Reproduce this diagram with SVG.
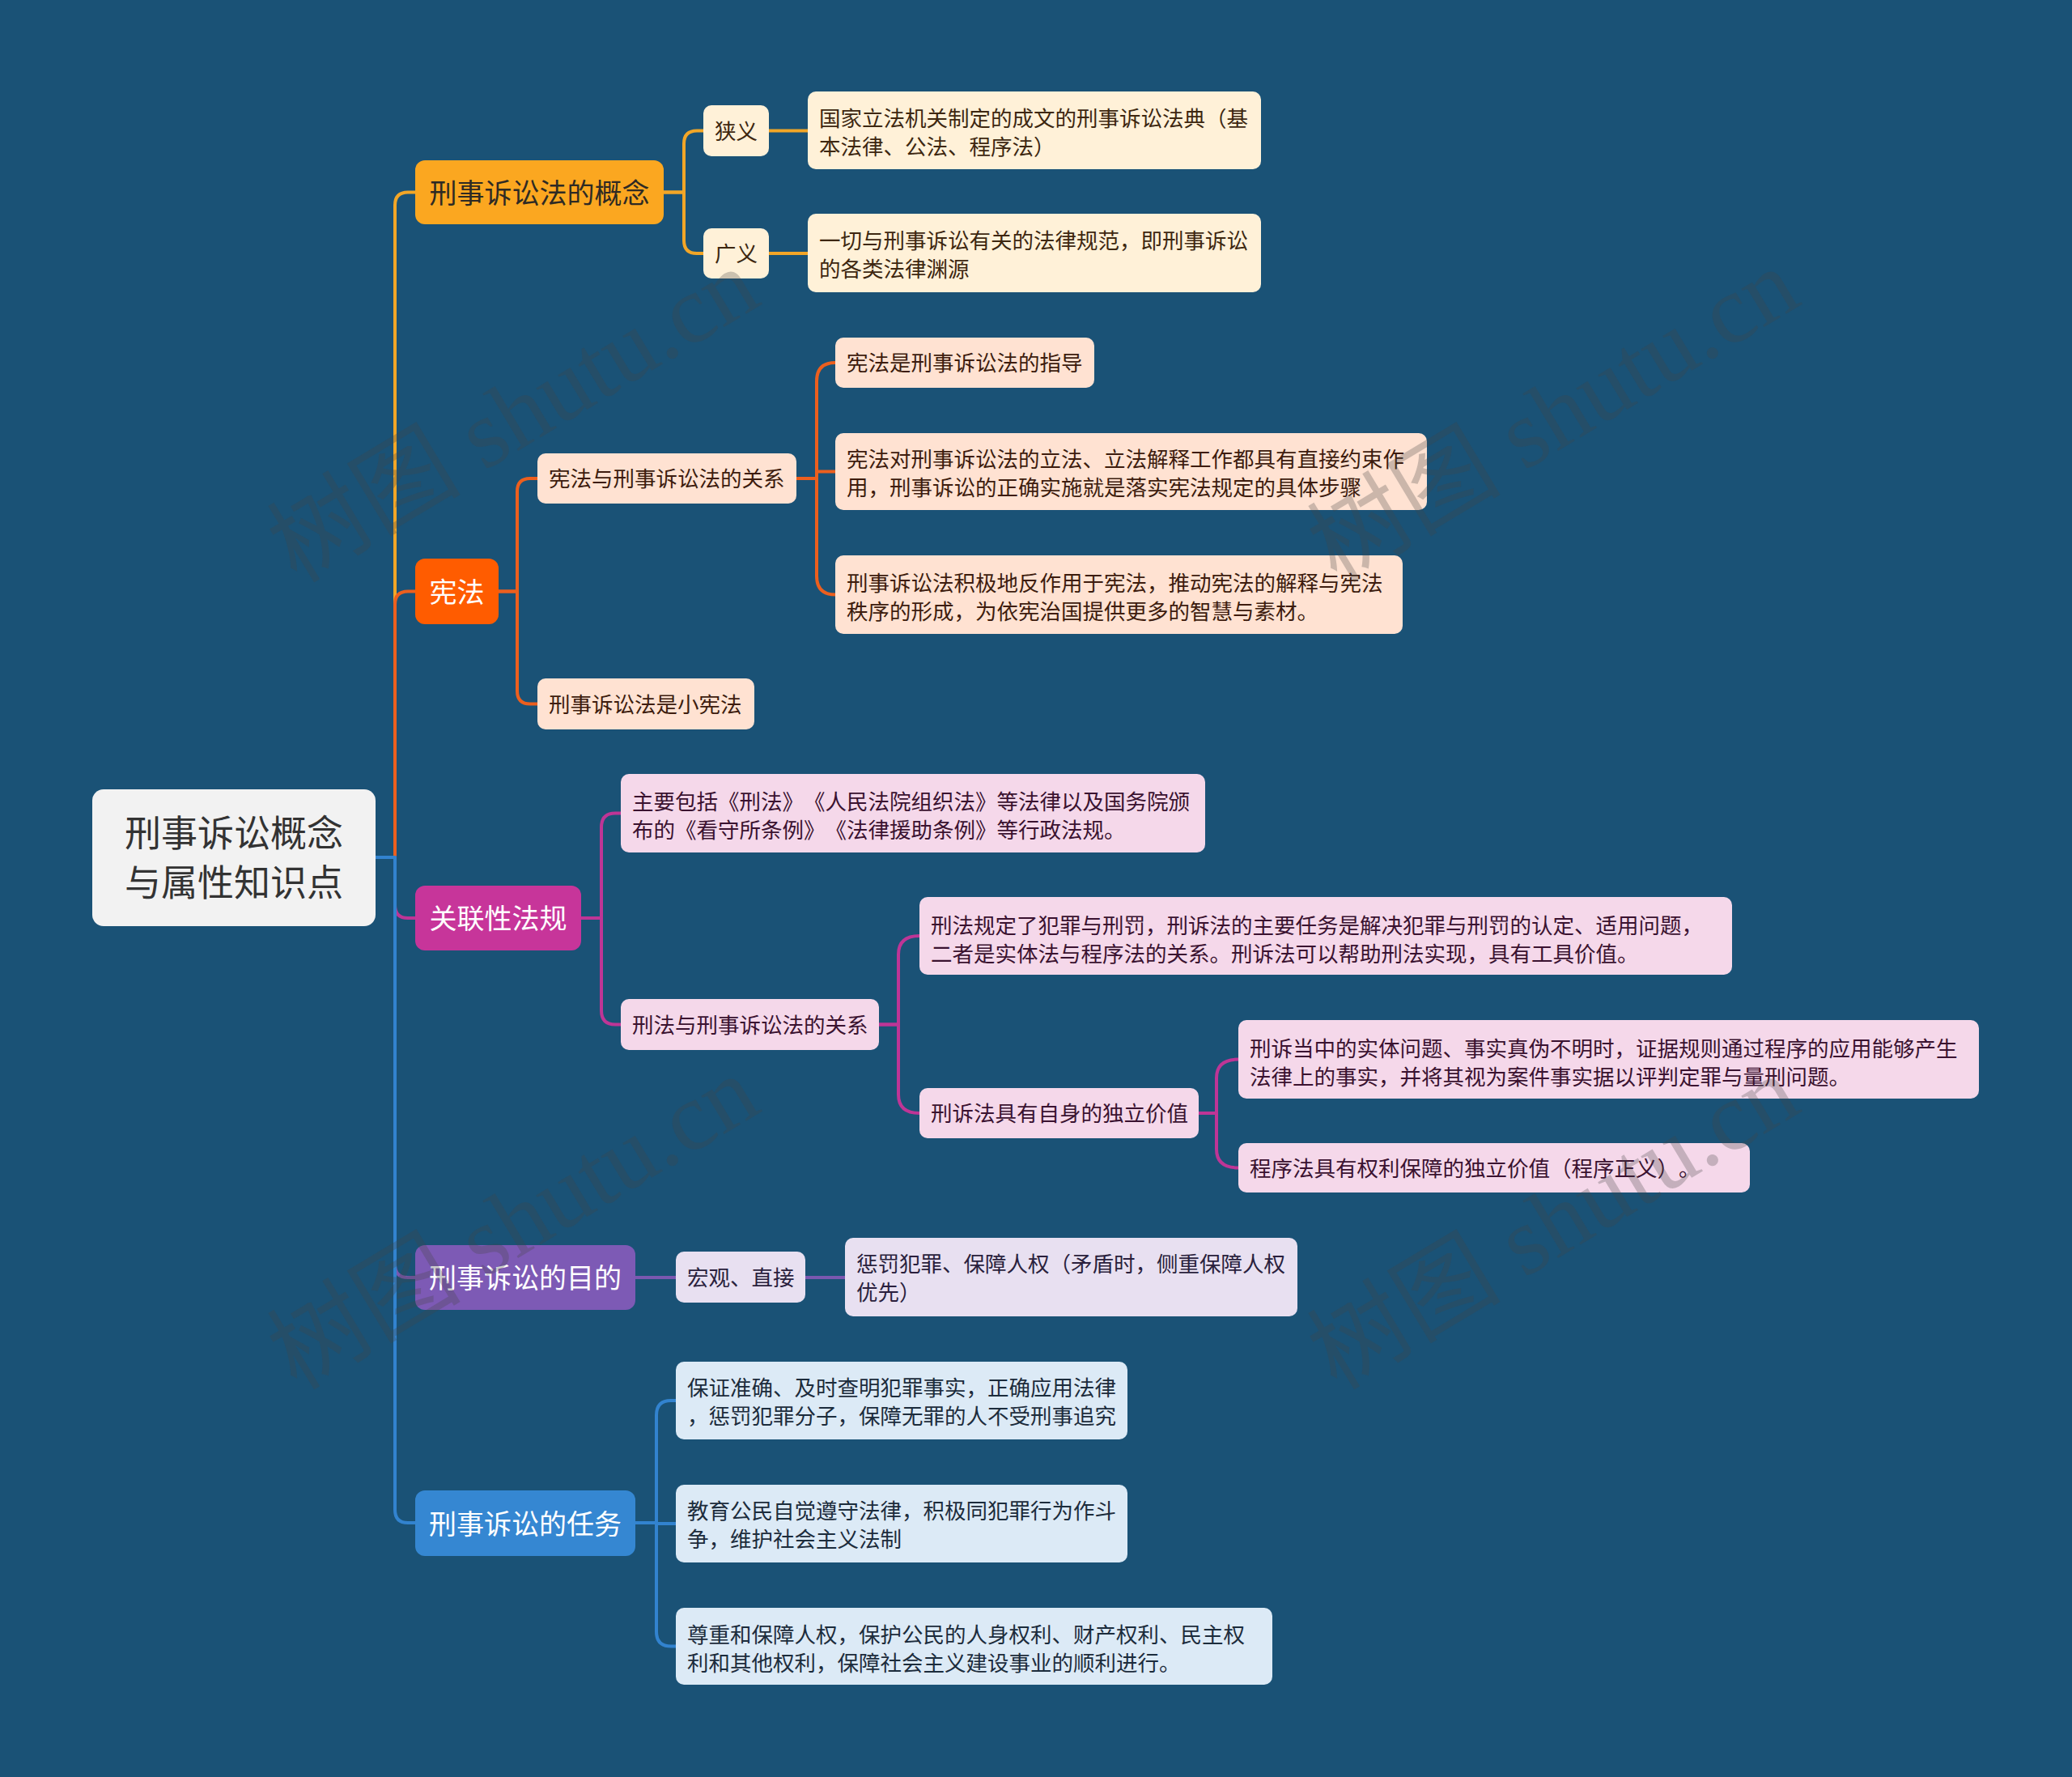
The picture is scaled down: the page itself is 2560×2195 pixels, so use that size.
<svg xmlns="http://www.w3.org/2000/svg" width="2560" height="2195" viewBox="0 0 2560 2195">
<style>
text{font-family:"Noto Sans CJK SC","Noto Sans",sans-serif;text-spacing-trim:space-all;font-feature-settings:"chws" 0,"halt" 0}
.c{fill:none;stroke-width:4;stroke-linecap:round;stroke-linejoin:round}
.t1{font-size:34px}
.t2{font-size:26.5px}
.root{font-size:45px;fill:#333333}
.wm{font-family:"Liberation Serif","Noto Sans CJK SC",serif;font-size:120px;fill:#444444;fill-opacity:0.28}
.mid{text-anchor:middle}
</style>
<rect x="0" y="0" width="2560" height="2195" fill="#1A5276"/>

<g id="connectors">
  <path class="c" stroke="#F2A627" d="M464,1059 H488 V253.5 Q488,237.5 504,237.5 H513"/>
  <path class="c" stroke="#EC5F1E" d="M464,1059 H488 V746.5 Q488,730.5 504,730.5 H513"/>
  <path class="c" stroke="#BE3596" d="M464,1059 H488 V1118 Q488,1134 504,1134 H513"/>
  <path class="c" stroke="#7A58B0" d="M464,1059 H488 V1562 Q488,1578 504,1578 H513"/>
  <path class="c" stroke="#3283CF" d="M464,1059 H488 V1865 Q488,1881 504,1881 H513"/>
  <path class="c" stroke="#F2A627" d="M820,237.5 H845 V177.5 Q845,161.5 861,161.5 H869"/>
  <path class="c" stroke="#F2A627" d="M820,237.5 H845 V297 Q845,313 861,313 H869"/>
  <path class="c" stroke="#F2A627" d="M950,161.5 H998"/>
  <path class="c" stroke="#F2A627" d="M950,313 H998"/>
  <path class="c" stroke="#EC5F1E" d="M616,730.5 H639 V607 Q639,591 655,591 H664"/>
  <path class="c" stroke="#EC5F1E" d="M616,730.5 H639 V853.5 Q639,869.5 655,869.5 H664"/>
  <path class="c" stroke="#EC5F1E" d="M984,591 H1009 V471 Q1009,448 1032,448"/>
  <path class="c" stroke="#EC5F1E" d="M984,591 H1009 V582.5 H1032"/>
  <path class="c" stroke="#EC5F1E" d="M984,591 H1009 V711.5 Q1009,734.5 1032,734.5"/>
  <path class="c" stroke="#BE3596" d="M718,1134 H743 V1022 Q743,1004.5 760,1004.5 H767"/>
  <path class="c" stroke="#BE3596" d="M718,1134 H743 V1248 Q743,1265.5 760,1265.5 H767"/>
  <path class="c" stroke="#BE3596" d="M1086,1265.5 H1110 V1179 Q1110,1156 1136,1156"/>
  <path class="c" stroke="#BE3596" d="M1086,1265.5 H1110 V1352 Q1110,1375 1136,1375"/>
  <path class="c" stroke="#BE3596" d="M1481,1375 H1503 V1331.5 Q1503,1308.5 1530,1308.5"/>
  <path class="c" stroke="#BE3596" d="M1481,1375 H1503 V1419.5 Q1503,1442.5 1530,1442.5"/>
  <path class="c" stroke="#7A58B0" d="M785,1578 H835"/>
  <path class="c" stroke="#7A58B0" d="M995,1578 H1044"/>
  <path class="c" stroke="#3283CF" d="M785,1881 H811 V1748 Q811,1730 829,1730 H835"/>
  <path class="c" stroke="#3283CF" d="M785,1881 H811 V1882 H835"/>
  <path class="c" stroke="#3283CF" d="M785,1881 H811 V2015.5 Q811,2033.5 829,2033.5 H835"/>
</g>

<g id="root">
  <rect x="114" y="975" width="350" height="169" rx="14" fill="#F2F2F2"/>
  <text class="root mid" x="289" y="1046">刑事诉讼概念</text>
  <text class="root mid" x="289" y="1107">与属性知识点</text>
</g>

<g id="n-gainian">
  <rect x="513" y="198" width="307" height="79" rx="12" fill="#FBA720"/>
  <text class="t1 mid" x="666.5" y="250.5" fill="#2E2A24">刑事诉讼法的概念</text>
</g>
<g id="n-xiayi">
  <rect x="869" y="130" width="81" height="63" rx="10" fill="#FFF1D8"/>
  <text class="t2 mid" x="909.5" y="171.5" fill="#3D2710">狭义</text>
</g>
<g id="n-guangyi">
  <rect x="869" y="282" width="81" height="62" rx="10" fill="#FFF1D8"/>
  <text class="t2 mid" x="909.5" y="323" fill="#3D2710">广义</text>
</g>
<g id="n-xiayi-d">
  <rect x="998" y="113" width="560" height="96" rx="10" fill="#FFF1D8"/>
  <text class="t2" x="1012" y="156" fill="#3D2710">国家立法机关制定的成文的刑事诉讼法典（基</text>
  <text class="t2" x="1012" y="191" fill="#3D2710">本法律、公法、程序法）</text>
</g>
<g id="n-guangyi-d">
  <rect x="998" y="264" width="560" height="97" rx="10" fill="#FFF1D8"/>
  <text class="t2" x="1012" y="307" fill="#3D2710">一切与刑事诉讼有关的法律规范，即刑事诉讼</text>
  <text class="t2" x="1012" y="342" fill="#3D2710">的各类法律渊源</text>
</g>

<g id="n-xianfa">
  <rect x="513" y="690" width="103" height="81" rx="12" fill="#FF5C00"/>
  <text class="t1 mid" x="564.5" y="743.5" fill="#FFFFFF">宪法</text>
</g>
<g id="n-guanxi1">
  <rect x="664" y="560" width="320" height="62" rx="10" fill="#FFE2D2"/>
  <text class="t2" x="678" y="601" fill="#3D1C0E">宪法与刑事诉讼法的关系</text>
</g>
<g id="n-xiaoxianfa">
  <rect x="664" y="838" width="268" height="63" rx="10" fill="#FFE2D2"/>
  <text class="t2" x="678" y="879.5" fill="#3D1C0E">刑事诉讼法是小宪法</text>
</g>
<g id="n-zhidao">
  <rect x="1032" y="417" width="320" height="62" rx="10" fill="#FFE2D2"/>
  <text class="t2" x="1046" y="458" fill="#3D1C0E">宪法是刑事诉讼法的指导</text>
</g>
<g id="n-yueshu">
  <rect x="1032" y="535" width="731" height="95" rx="10" fill="#FFE2D2"/>
  <text class="t2" x="1046" y="577" fill="#3D1C0E">宪法对刑事诉讼法的立法、立法解释工作都具有直接约束作</text>
  <text class="t2" x="1046" y="612" fill="#3D1C0E">用，刑事诉讼的正确实施就是落实宪法规定的具体步骤</text>
</g>
<g id="n-fanzuoyong">
  <rect x="1032" y="686" width="701" height="97" rx="10" fill="#FFE2D2"/>
  <text class="t2" x="1046" y="729.5" fill="#3D1C0E">刑事诉讼法积极地反作用于宪法，推动宪法的解释与宪法</text>
  <text class="t2" x="1046" y="764.5" fill="#3D1C0E">秩序的形成，为依宪治国提供更多的智慧与素材。</text>
</g>

<g id="n-guanlian">
  <rect x="513" y="1094" width="205" height="80" rx="12" fill="#C7359A"/>
  <text class="t1 mid" x="615.5" y="1147" fill="#FFFFFF">关联性法规</text>
</g>
<g id="n-baokuo">
  <rect x="767" y="956" width="722" height="97" rx="10" fill="#F5D8EA"/>
  <text class="t2" x="781" y="999.5" fill="#3A1230">主要包括《刑法》《人民法院组织法》等法律以及国务院颁</text>
  <text class="t2" x="781" y="1034.5" fill="#3A1230">布的《看守所条例》《法律援助条例》等行政法规。</text>
</g>
<g id="n-guanxi2">
  <rect x="767" y="1234" width="319" height="63" rx="10" fill="#F5D8EA"/>
  <text class="t2" x="781" y="1275.5" fill="#3A1230">刑法与刑事诉讼法的关系</text>
</g>
<g id="n-guiding">
  <rect x="1136" y="1108" width="1004" height="96" rx="10" fill="#F5D8EA"/>
  <text class="t2" x="1150" y="1152.5" fill="#3A1230">刑法规定了犯罪与刑罚，刑诉法的主要任务是解决犯罪与刑罚的认定、适用问题，</text>
  <text class="t2" x="1150" y="1187.5" fill="#3A1230">二者是实体法与程序法的关系。刑诉法可以帮助刑法实现，具有工具价值。</text>
</g>
<g id="n-duli">
  <rect x="1136" y="1344" width="345" height="62" rx="10" fill="#F5D8EA"/>
  <text class="t2" x="1150" y="1385" fill="#3A1230">刑诉法具有自身的独立价值</text>
</g>
<g id="n-shiti">
  <rect x="1530" y="1260" width="915" height="97" rx="10" fill="#F5D8EA"/>
  <text class="t2" x="1544" y="1304.5" fill="#3A1230">刑诉当中的实体问题、事实真伪不明时，证据规则通过程序的应用能够产生</text>
  <text class="t2" x="1544" y="1339.5" fill="#3A1230">法律上的事实，并将其视为案件事实据以评判定罪与量刑问题。</text>
</g>
<g id="n-chengxu">
  <rect x="1530" y="1412" width="632" height="61" rx="10" fill="#F5D8EA"/>
  <text class="t2" x="1544" y="1452.5" fill="#3A1230">程序法具有权利保障的独立价值（程序正义）。</text>
</g>

<g id="n-mudi">
  <rect x="513" y="1538" width="272" height="80" rx="12" fill="#7D5AB5"/>
  <text class="t1 mid" x="649" y="1591" fill="#FFFFFF">刑事诉讼的目的</text>
</g>
<g id="n-hongguan">
  <rect x="835" y="1546" width="160" height="63" rx="10" fill="#E8E0F1"/>
  <text class="t2" x="849" y="1587.5" fill="#2A1F3D">宏观、直接</text>
</g>
<g id="n-chengfa">
  <rect x="1044" y="1529" width="559" height="97" rx="10" fill="#E8E0F1"/>
  <text class="t2" x="1058" y="1570.5" fill="#2A1F3D">惩罚犯罪、保障人权（矛盾时，侧重保障人权</text>
  <text class="t2" x="1058" y="1605.5" fill="#2A1F3D">优先）</text>
</g>

<g id="n-renwu">
  <rect x="513" y="1841" width="272" height="81" rx="12" fill="#3587D2"/>
  <text class="t1 mid" x="649" y="1894.5" fill="#FFFFFF">刑事诉讼的任务</text>
</g>
<g id="n-baozheng">
  <rect x="835" y="1682" width="558" height="96" rx="10" fill="#DCEAF6"/>
  <text class="t2" x="849" y="1723.5" fill="#1C2C3C">保证准确、及时查明犯罪事实，正确应用法律</text>
  <text class="t2" x="849" y="1758.5" fill="#1C2C3C">，惩罚犯罪分子，保障无罪的人不受刑事追究</text>
</g>
<g id="n-jiaoyu">
  <rect x="835" y="1834" width="558" height="96" rx="10" fill="#DCEAF6"/>
  <text class="t2" x="849" y="1875.5" fill="#1C2C3C">教育公民自觉遵守法律，积极同犯罪行为作斗</text>
  <text class="t2" x="849" y="1910.5" fill="#1C2C3C">争，维护社会主义法制</text>
</g>
<g id="n-zunzhong">
  <rect x="835" y="1986" width="737" height="95" rx="10" fill="#DCEAF6"/>
  <text class="t2" x="849" y="2028.5" fill="#1C2C3C">尊重和保障人权，保护公民的人身权利、财产权利、民主权</text>
  <text class="t2" x="849" y="2063.5" fill="#1C2C3C">利和其他权利，保障社会主义建设事业的顺利进行。</text>
</g>

<g id="watermark">
  <text class="wm mid" transform="translate(655,548) rotate(-31)">树图 shutu.cn</text>
  <text class="wm mid" transform="translate(1940,548) rotate(-31)">树图 shutu.cn</text>
  <text class="wm mid" transform="translate(655,1545) rotate(-31)">树图 shutu.cn</text>
  <text class="wm mid" transform="translate(1940,1545) rotate(-31)">树图 shutu.cn</text>
</g>
</svg>
